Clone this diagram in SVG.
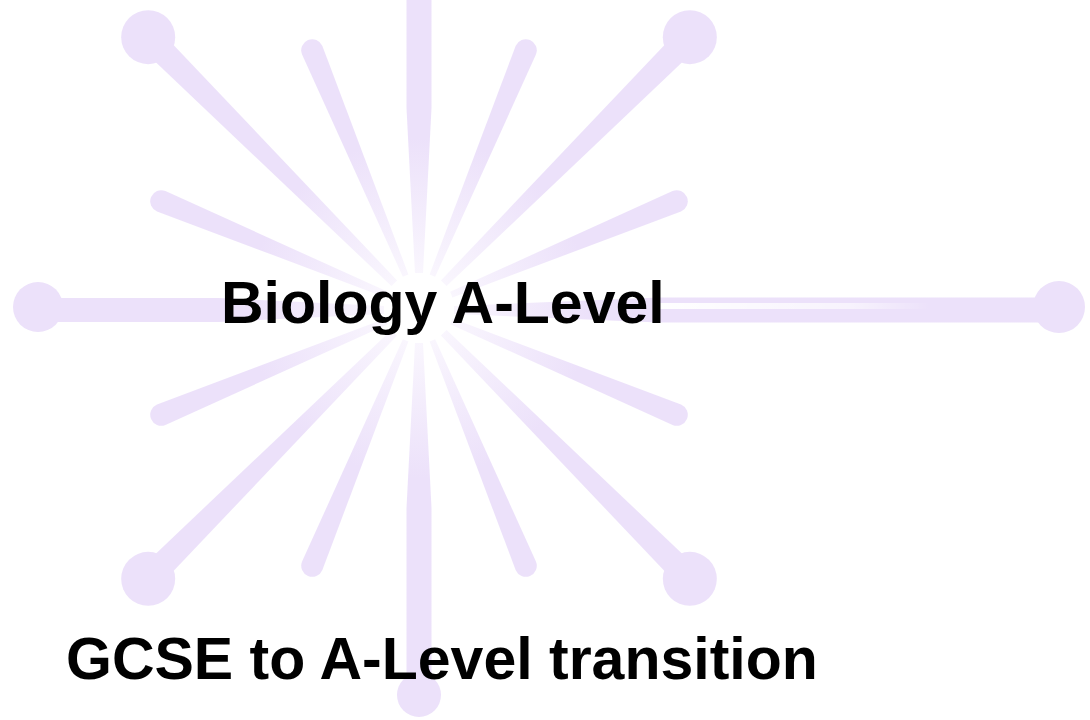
<svg xmlns="http://www.w3.org/2000/svg" width="1090" height="720" viewBox="0 0 1090 720">
  <defs>
    <linearGradient id="fade" gradientUnits="userSpaceOnUse" x1="35" y1="0" x2="170" y2="0">
      <stop offset="0" stop-color="#ECE1FA" stop-opacity="0.3"/>
      <stop offset="1" stop-color="#ECE1FA" stop-opacity="1"/>
    </linearGradient>
    <linearGradient id="stripe" x1="0" y1="0" x2="1" y2="0">
      <stop offset="0" stop-color="#FFFFFF" stop-opacity="1"/>
      <stop offset="0.7" stop-color="#FFFFFF" stop-opacity="0.6"/>
      <stop offset="1" stop-color="#FFFFFF" stop-opacity="0"/>
    </linearGradient>
    <path id="shortRay" d="M35,-3 L279,-11 A11,11 0 0 1 279,11 L35,3 Z"/>
    <g id="dotRay">
      <path d="M35,-4 L383,-13 L383,13 L35,4 Z"/>
      <circle cx="383" cy="0" r="27"/>
    </g>
  </defs>
  <style>
    .ray { fill: url(#fade); }
    .dot { fill: #ECE1FA; }
    .label { font-family: "Liberation Sans", Arial, sans-serif; font-weight: bold; fill: #000000; }
  </style>
  <rect x="0" y="0" width="1090" height="720" fill="#FFFFFF"/>
  <g id="rays" transform="translate(419,308)">
    <use href="#shortRay" class="ray" transform="rotate(22.5)"/>
    <use href="#shortRay" class="ray" transform="rotate(67.5)"/>
    <use href="#shortRay" class="ray" transform="rotate(112.5)"/>
    <use href="#shortRay" class="ray" transform="rotate(157.5)"/>
    <use href="#shortRay" class="ray" transform="rotate(202.5)"/>
    <use href="#shortRay" class="ray" transform="rotate(247.5)"/>
    <use href="#shortRay" class="ray" transform="rotate(292.5)"/>
    <use href="#shortRay" class="ray" transform="rotate(337.5)"/>
    <use href="#dotRay" class="ray" transform="rotate(45)"/>
    <use href="#dotRay" class="ray" transform="rotate(135)"/>
    <use href="#dotRay" class="ray" transform="rotate(225)"/>
    <use href="#dotRay" class="ray" transform="rotate(315)"/>
    <!-- right horizontal, long -->
    <path class="ray" d="M35,-4 L240,-12.5 L640,-12.5 L640,12.5 L240,12.5 L35,4 Z" transform="translate(0,2)"/>
    <circle class="dot" cx="640" cy="-1" r="26"/>
    <!-- left horizontal -->
    <g transform="rotate(180)">
      <path class="ray" d="M35,-4 L200,-12 L381,-12 L381,12 L200,12 L35,4 Z" transform="translate(0,-2)"/>
      <circle class="dot" cx="381" cy="1" r="25"/>
    </g>
    <!-- vertical down -->
    <g transform="rotate(90)">
      <path class="ray" d="M35,-4 L200,-12.5 L387,-12.5 L387,12.5 L200,12.5 L35,4 Z"/>
      <circle class="dot" cx="387" cy="0" r="22"/>
    </g>
    <!-- vertical up -->
    <g transform="rotate(270)">
      <path class="ray" d="M35,-4 L200,-12.5 L330,-12.5 L330,12.5 L200,12.5 L35,4 Z"/>
    </g>
  </g>
  <rect x="660" y="303" width="270" height="6" fill="url(#stripe)"/>
  <g id="title">
    <text class="label" x="221" y="323" font-size="59">Biology A-Level</text>
  </g>
  <g id="subtitle">
    <text class="label" x="66" y="679" font-size="59">GCSE to A-Level transition</text>
  </g>
</svg>
